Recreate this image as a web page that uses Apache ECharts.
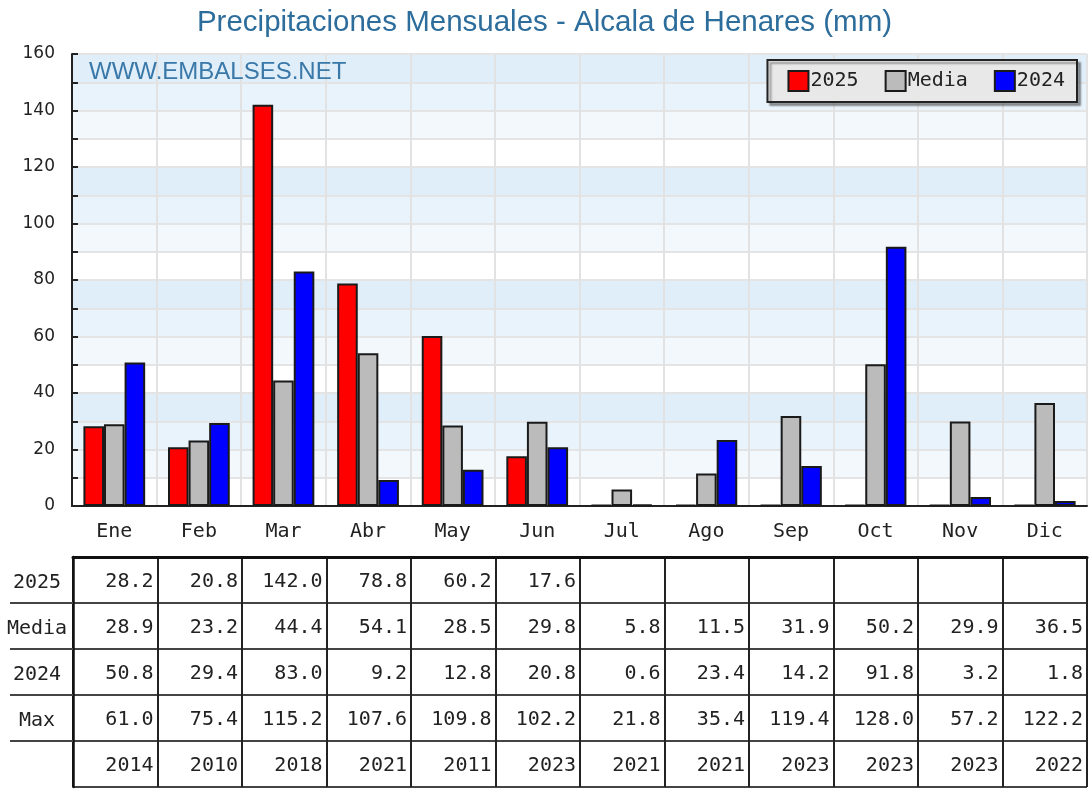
<!DOCTYPE html>
<html>
<head>
<meta charset="utf-8">
<script src="https://cdn.jsdelivr.net/npm/echarts@6/dist/echarts.min.js"></script>
<style>
  html, body { margin: 0; padding: 0; background: #fff; }
  #chart { width: 1089px; height: 789px; }
</style>
</head>
<body>
<div id="chart"></div>
<script>
// datos mensuales (mm)
var months = ['Ene', 'Feb', 'Mar', 'Abr', 'May', 'Jun', 'Jul', 'Ago', 'Sep', 'Oct', 'Nov', 'Dic'];
var rain2025 = [28.2, 20.8, 142.0, 78.8, 60.2, 17.6, null, null, null, null, null, null];
var rainMedia = [28.9, 23.2, 44.4, 54.1, 28.5, 29.8, 5.8, 11.5, 31.9, 50.2, 29.9, 36.5];
var rain2024 = [50.8, 29.4, 83.0, 9.2, 12.8, 20.8, 0.6, 23.4, 14.2, 91.8, 3.2, 1.8];
var rainMax = [61.0, 75.4, 115.2, 107.6, 109.8, 102.2, 21.8, 35.4, 119.4, 128.0, 57.2, 122.2];
var maxYears = ['2014', '2010', '2018', '2021', '2011', '2023', '2021', '2021', '2023', '2023', '2023', '2022'];
var rowLabels = ['2025', 'Media', '2024', 'Max', ''];
var yTicks = [0, 20, 40, 60, 80, 100, 120, 140, 160];

var MONO = '"DejaVu Sans Mono", "Liberation Mono", monospace';

// celdas de la tabla
var cells = [];
var rows = [rain2025, rainMedia, rain2024, rainMax];
rows.forEach(function (arr, r) {
  arr.forEach(function (v, c) {
    if (v !== null) cells.push({ col: c, row: r, text: v.toFixed(1) });
  });
});
maxYears.forEach(function (y, c) {
  cells.push({ col: c, row: 4, text: y });
});

var chart = echarts.init(document.getElementById('chart'));

var barStyle = function (color) {
  return { color: color, borderColor: '#1a1a1a', borderWidth: 2 };
};

var option = {
  animation: false,
  title: [{
    text: 'Precipitaciones Mensuales - Alcala de Henares (mm)',
    left: 'center',
    top: 3,
    textStyle: { fontFamily: '"Liberation Sans", Arial', fontSize: 29.5, fontWeight: 'normal', color: '#2d6d9c' }
  }, {
    text: 'WWW.EMBALSES.NET',
    left: 84,
    top: 55,
    textStyle: { fontFamily: '"Liberation Sans", Arial', fontSize: 24, fontWeight: 'normal', color: '#3a78a8' }
  }],
  legend: {
    right: 12,
    top: 60,
    padding: [10, 12, 10, 20],
    itemWidth: 20,
    itemHeight: 20,
    itemGap: 26,
    icon: 'rect',
    backgroundColor: '#e8e8e8',
    borderColor: '#222',
    borderWidth: 2,
    shadowColor: 'rgba(0,0,0,0.35)',
    shadowOffsetX: 3,
    shadowOffsetY: 3,
    shadowBlur: 2,
    textStyle: { fontFamily: MONO, fontSize: 20, color: '#222', padding: [0, 0, 0, -3] },
    data: ['2025', 'Media', '2024']
  },
  grid: [
    { left: 72, right: 2, top: 54, bottom: 283 },
    { left: 73, right: 2, top: 557, bottom: 2 }
  ],
  xAxis: [{
    gridIndex: 0,
    type: 'category',
    data: months,
    axisLine: { lineStyle: { color: '#222', width: 2 } },
    axisTick: { inside: true, length: 6, lineStyle: { color: '#333', width: 2 } },
    axisLabel: { fontFamily: MONO, fontSize: 20, color: '#222', margin: 16 },
    splitLine: { show: true, lineStyle: { color: '#e2e2e2', width: 2 } }
  }, {
    gridIndex: 1,
    type: 'category',
    data: months,
    position: 'top',
    axisLine: { lineStyle: { color: '#111', width: 3 } },
    axisTick: { show: false },
    axisLabel: { show: false },
    splitLine: { show: true, lineStyle: { color: '#222', width: 2 } }
  }],
  yAxis: [{
    gridIndex: 0,
    type: 'value',
    min: 0,
    max: 160,
    interval: 10,
    axisLine: { show: true, lineStyle: { color: '#222', width: 2 } },
    axisTick: { show: true, inside: true, length: 6, lineStyle: { color: '#222', width: 2 } },
    axisLabel: {
      fontFamily: '"DejaVu Sans"', fontSize: 17, color: '#222', margin: 17,
      formatter: function (v) { return yTicks.indexOf(v) >= 0 ? String(v) : ''; }
    },
    splitLine: { show: true, lineStyle: { color: '#e4e4e4', width: 2 } },
    splitArea: { show: true, areaStyle: { color: ['#ffffff', '#f3f8fd', '#e9f3fb', '#e0eef9'] } }
  }, {
    gridIndex: 1,
    type: 'category',
    data: rowLabels,
    inverse: true,
    axisLine: { lineStyle: { color: '#111', width: 2.5 } },
    axisTick: { show: false },
    axisLabel: { fontFamily: MONO, fontSize: 20, color: '#222', margin: 36, align: 'center', lineHeight: 26, verticalAlign: 'top', padding: [-10, 0, 0, 0] },
    splitLine: { show: true, lineStyle: { color: '#444', width: 2 } }
  }],
  series: [{
    name: '2025',
    type: 'bar',
    data: rain2025.map(function (v) { return v === null ? 0 : v; }),
    itemStyle: barStyle('#ff0000'),
    barMinHeight: 1,
    barGap: '0%',
    barCategoryGap: '27%'
  }, {
    name: 'Media',
    type: 'bar',
    data: rainMedia,
    itemStyle: barStyle('#bbbbbb')
  }, {
    name: '2024',
    type: 'bar',
    data: rain2024,
    itemStyle: barStyle('#0000ff')
  }, {
    type: 'custom',
    xAxisIndex: 1,
    yAxisIndex: 1,
    silent: true,
    data: cells.map(function (c) { return [c.col, c.row]; }),
    renderItem: function (params, api) {
      var cell = cells[params.dataIndex];
      var p = api.coord([api.value(0), api.value(1)]);
      var s = api.size([1, 1]);
      var children = [{
        type: 'text',
        style: {
          text: cell.text,
          x: p[0] + s[0] / 2 - 4,
          y: p[1] + 2,
          align: 'right',
          verticalAlign: 'middle',
          font: '20px ' + MONO,
          fill: '#222'
        }
      }];
      // lineas de la columna de etiquetas
      if (cell.col === 0 && cell.row > 0) {
        children.push({
          type: 'line',
          shape: { x1: 10, y1: p[1] - s[1] / 2, x2: p[0] - s[0] / 2, y2: p[1] - s[1] / 2 },
          style: { stroke: '#444', lineWidth: 2 }
        });
      }
      return { type: 'group', children: children };
    }
  }]
};

chart.setOption(option);
</script>
</body>
</html>
